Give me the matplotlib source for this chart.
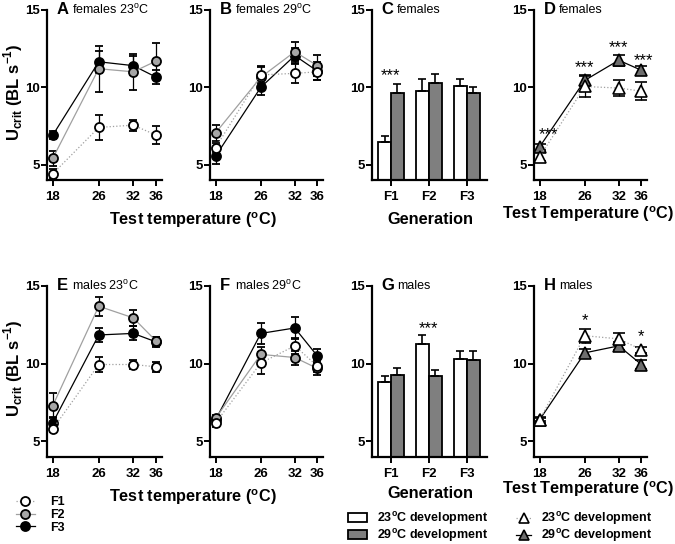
import numpy as np
import matplotlib
matplotlib.use("Agg")
import matplotlib.pyplot as plt
from matplotlib.lines import Line2D
from matplotlib.patches import Patch

plt.rcParams['font.family'] = ['Liberation Sans', 'DejaVu Sans']
plt.rcParams['mathtext.fontset'] = 'custom'
plt.rcParams['mathtext.rm'] = 'Liberation Sans'
plt.rcParams['mathtext.bf'] = 'Liberation Sans:bold'

W, H = 675, 544

temps = [18, 26, 32, 36]
gens = ["F1", "F2", "F3"]

# females, developed at 23C (A) and 29C (B): mean and SE per generation
fa_mean = {"F1": [4.4, 7.4, 7.55, 6.9], "F2": [5.4, 11.2, 11.0, 11.7], "F3": [6.9, 11.65, 11.4, 10.65]}
fa_err = {"F1": [0.3, 0.8, 0.35, 0.6], "F2": [0.5, 1.5, 1.15, 1.15], "F3": [0.25, 0.7, 0.6, 0.45]}
fb_mean = {"F1": [6.1, 10.8, 10.9, 11.0], "F2": [7.05, 10.65, 12.3, 11.4], "F3": [5.55, 10.0, 12.05, 11.05]}
fb_err = {"F1": [0.3, 0.5, 0.6, 0.5], "F2": [0.5, 0.7, 0.6, 0.7], "F3": [0.5, 0.5, 0.5, 0.6]}

# males, developed at 23C (E) and 29C (F)
me_mean = {"F1": [5.8, 9.95, 9.95, 9.8], "F2": [7.3, 13.7, 12.95, 11.45], "F3": [6.2, 11.85, 11.95, 11.4]}
me_err = {"F1": [0.2, 0.5, 0.3, 0.3], "F2": [0.8, 0.6, 0.5, 0.3], "F3": [0.35, 0.45, 0.45, 0.3]}
mf_mean = {"F1": [6.2, 10.05, 11.15, 9.85], "F2": [6.5, 10.6, 10.4, 9.7], "F3": [6.4, 11.95, 12.3, 10.5]}
mf_err = {"F1": [0.25, 0.7, 0.5, 0.4], "F2": [0.2, 0.5, 0.45, 0.4], "F3": [0.2, 0.7, 0.7, 0.45]}

# generation bars (C females, G males): 23C and 29C development
fc_23 = [6.45, 9.75, 10.1]
fc_23_err = [0.4, 0.8, 0.45]
fc_29 = [9.65, 10.3, 9.6]
fc_29_err = [0.55, 0.55, 0.43]
mg_23 = [8.8, 11.3, 10.3]
mg_23_err = [0.4, 0.55, 0.5]
mg_29 = [9.25, 9.2, 10.25]
mg_29_err = [0.5, 0.4, 0.55]

# test temperature by development temperature (D females, H males)
fd_23 = [5.5, 10.05, 9.95, 9.75]
fd_23_err = [0.3, 0.65, 0.5, 0.6]
fd_29 = [6.15, 10.45, 11.75, 11.1]
fd_29_err = [0.2, 0.35, 0.35, 0.3]
mh_23 = [6.4, 11.8, 11.6, 10.9]
mh_23_err = [0.2, 0.45, 0.4, 0.2]
mh_29 = [6.4, 10.7, 11.15, 9.95]
mh_29_err = [0.1, 0.25, 0.25, 0.3]

# significance marks (x, y, label)
fc_sig = [(1, 10.75, "***")]
fd_sig = [(19.6, 6.95, "***"), (26, 11.3, "***"), (32, 12.55, "***"), (36.4, 11.75, "***")]
mg_sig = [(2, 12.25, "***")]
mh_sig = [(26, 12.75, "*"), (36, 11.75, "*")]

gen_style = {
    "F1": dict(mfc="white", color="#a0a0a0", ls=":"),
    "F2": dict(mfc="#a6a6a6", color="#a0a0a0", ls="-"),
    "F3": dict(mfc="black", color="black", ls="-"),
}


def px(x, y):
    return x / W, 1 - y / H


def bold_ticks(ax):
    for lab in ax.get_yticklabels() + ax.get_xticklabels():
        lab.set_fontweight('bold')


def new_ax(fig, left, top, width, height):
    ax = fig.add_axes([left / W, 1 - (top + height) / H, width / W, height / H])
    ax.spines[['top', 'right']].set_visible(False)
    ax.spines[['left', 'bottom']].set_linewidth(1.6)
    ax.set_ylim(4, 15)
    ax.set_yticks([5, 10, 15])
    ax.tick_params(width=1.4, length=4, labelsize=9.5)
    ax.tick_params(axis='x', pad=4)
    ax.tick_params(axis='y', pad=1)
    return ax


def title(ax, letter, txt):
    ax.annotate(letter, (0, 1), xycoords='axes fraction', xytext=(7, 0),
                textcoords='offset points', fontsize=12, fontweight='bold',
                va='center', ha='left')
    ax.annotate(txt, (0, 1), xycoords='axes fraction', xytext=(18, 0),
                textcoords='offset points', fontsize=9, va='center', ha='left')


def gen_panel(ax, means, errs):
    for g in ["F3", "F2", "F1"]:
        st = gen_style[g]
        ax.errorbar(temps, means[g], yerr=errs[g], color=st["color"], ls=st["ls"],
                    lw=0.9, marker='o', ms=6.5, mfc=st["mfc"], mec='black', mew=1.3,
                    ecolor='black', elinewidth=0.9, capsize=3, capthick=0.9)
    ax.set_xlim(17, 37)
    ax.set_xticks(temps)
    bold_ticks(ax)


def dev_panel(ax, m23, e23, m29, e29, sigs):
    ax.errorbar(temps, m29, yerr=e29, color='black', ls='-', lw=0.9, marker='^',
                ms=8, mfc='#6e6e6e', mec='black', mew=1.2, ecolor='black',
                elinewidth=0.9, capsize=4, capthick=1)
    ax.errorbar(temps, m23, yerr=e23, color='#a0a0a0', ls=':', lw=0.9, marker='^',
                ms=8, mfc='white', mec='black', mew=1.2, ecolor='black',
                elinewidth=0.9, capsize=4, capthick=1)
    for x, y, s in sigs:
        ax.text(x, y, s, ha='center', va='center', fontsize=12)
    ax.set_xlim(17, 37)
    ax.set_xticks(temps)
    bold_ticks(ax)


def bar_panel(ax, m23, e23, m29, e29, sigs):
    x = np.arange(1, 4)
    w = 0.34
    ax.bar(x - w / 2, m23, w, color='white', edgecolor='black', lw=1.3,
           yerr=[np.zeros(3), e23], capsize=3,
           error_kw=dict(elinewidth=1.2, capthick=1.2))
    ax.bar(x + w / 2, m29, w, color='#7f7f7f', edgecolor='black', lw=1.3,
           yerr=[np.zeros(3), e29], capsize=3,
           error_kw=dict(elinewidth=1.2, capthick=1.2))
    for xx, y, s in sigs:
        ax.text(xx, y, s, ha='center', va='center', fontsize=12)
    ax.set_xlim(0.5, 3.53)
    ax.set_xticks(x)
    ax.set_xticklabels(gens)
    bold_ticks(ax)


fig = plt.figure(figsize=(W / 100, H / 100), dpi=100)

axA = new_ax(fig, 47, 10, 115, 170)
axB = new_ax(fig, 210, 10, 113, 170)
axC = new_ax(fig, 372, 10, 115, 170)
axD = new_ax(fig, 534, 10, 113, 170)
axE = new_ax(fig, 47, 286, 115, 171)
axF = new_ax(fig, 210, 286, 113, 171)
axG = new_ax(fig, 372, 286, 115, 171)
axH = new_ax(fig, 534, 286, 113, 171)

gen_panel(axA, fa_mean, fa_err)
gen_panel(axB, fb_mean, fb_err)
gen_panel(axE, me_mean, me_err)
gen_panel(axF, mf_mean, mf_err)
bar_panel(axC, fc_23, fc_23_err, fc_29, fc_29_err, fc_sig)
bar_panel(axG, mg_23, mg_23_err, mg_29, mg_29_err, mg_sig)
dev_panel(axD, fd_23, fd_23_err, fd_29, fd_29_err, fd_sig)
dev_panel(axH, mh_23, mh_23_err, mh_29, mh_29_err, mh_sig)

deg = r'$^{\mathrm{o}}$'
title(axA, "A", "females 23" + deg + "C")
title(axB, "B", "females 29" + deg + "C")
title(axC, "C", "females")
title(axD, "D", "females")
title(axE, "E", "males 23" + deg + "C")
title(axF, "F", "males 29" + deg + "C")
title(axG, "G", "males")
title(axH, "H", "males")

ylab = r'U$_{\mathbf{crit}}$ (BL s$^{\mathbf{-1}}$)'
fig.text(*px(13, 92), ylab, rotation=90, fontsize=12, fontweight='bold', ha='center', va='center')
fig.text(*px(13, 368), ylab, rotation=90, fontsize=12, fontweight='bold', ha='center', va='center')

degb = r'$^{\mathbf{o}}$'
lab_fs = 11.7
fig.text(*px(193, 220), "Test temperature (" + degb + "C)", fontsize=lab_fs, fontweight='bold', ha='center', va='center')
fig.text(*px(193, 497), "Test temperature (" + degb + "C)", fontsize=lab_fs, fontweight='bold', ha='center', va='center')
fig.text(*px(430, 220), "Generation", fontsize=lab_fs, fontweight='bold', ha='center', va='center')
fig.text(*px(430, 494), "Generation", fontsize=lab_fs, fontweight='bold', ha='center', va='center')
fig.text(*px(588, 214), "Test Temperature (" + degb + "C)", fontsize=lab_fs, fontweight='bold', ha='center', va='center')
fig.text(*px(588, 489), "Test Temperature (" + degb + "C)", fontsize=lab_fs, fontweight='bold', ha='center', va='center')

# legends
gen_handles = [Line2D([], [], color=gen_style[g]["color"], ls=gen_style[g]["ls"], lw=0.9,
                      marker='o', ms=6.5, mfc=gen_style[g]["mfc"], mec='black', mew=1.3)
               for g in gens]
fig.legend(gen_handles, gens, loc='center left', bbox_to_anchor=px(16, 515),
           frameon=False, prop=dict(weight='bold', size=9), handlelength=1.5,
           labelspacing=0.05, handletextpad=1.2, borderaxespad=0, borderpad=0)

bar_handles = [Patch(facecolor='white', edgecolor='black', lw=1.3),
               Patch(facecolor='#7f7f7f', edgecolor='black', lw=1.3)]
dev_labels = ["23" + degb + "C development", "29" + degb + "C development"]
fig.legend(bar_handles, dev_labels, loc='center left', bbox_to_anchor=px(348, 527),
           frameon=False, prop=dict(weight='bold', size=9), handlelength=1.5,
           handleheight=0.75, labelspacing=0.0, handletextpad=0.8, borderaxespad=0, borderpad=0)

tri_handles = [Line2D([], [], color='#a0a0a0', ls=':', lw=0.9, marker='^', ms=7,
                      mfc='white', mec='black', mew=1.2),
               Line2D([], [], color='black', ls='-', lw=0.9, marker='^', ms=7,
                      mfc='#6e6e6e', mec='black', mew=1.2)]
fig.legend(tri_handles, dev_labels, loc='center left', bbox_to_anchor=px(516, 527),
           frameon=False, prop=dict(weight='bold', size=9), handlelength=1.2,
           labelspacing=0.0, handletextpad=0.8, borderaxespad=0, borderpad=0)

fig.savefig("out.png", dpi=100)
